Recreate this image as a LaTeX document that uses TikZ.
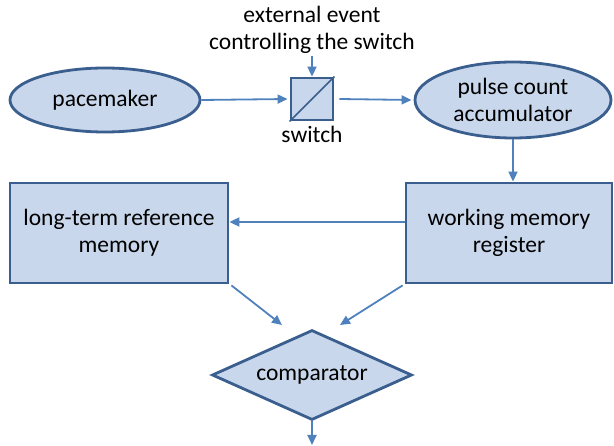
\documentclass[tikz,border=0pt]{standalone}
\usepackage{fontspec}
\setmainfont{Carlito}
\usetikzlibrary{shapes.geometric,arrows.meta}
\definecolor{boxfill}{HTML}{C9D7EC}
\definecolor{boxline}{HTML}{3A5F8F}
\definecolor{arrowc}{HTML}{4F81BD}
\begin{document}
\begin{tikzpicture}[x=1pt,y=-1pt,
  every node/.style={font=\fontsize{23.5}{27}\selectfont, align=center, inner sep=0pt},
  shapebox/.style={draw=boxline, fill=boxfill, line width=2.8pt},
  conn/.style={draw=arrowc, line width=1.8pt, -{Triangle[length=10pt,width=9pt]}}]
\useasboundingbox (0,0) rectangle (614,446);
\node[shapebox, ellipse, minimum width=190pt, minimum height=64pt] (pace) at (105,100) {pacemaker};
\node[shapebox, rectangle, minimum width=42pt, minimum height=42pt] (sw) at (312,99) {};
\draw[boxline, line width=1.5pt] (sw.south west) -- (sw.north east);
\node (swl) at (312,134) {switch};
\node (ext) at (312,30) {external event\\controlling the switch};
\coordinate (extend) at (312,56);
\node[shapebox, ellipse, minimum width=196pt, minimum height=76pt] (acc) at (513,100) {pulse count\\accumulator};
\node[shapebox, rectangle, minimum width=206pt, minimum height=100pt] (wm) at (509,233) {working memory\\register};
\node[shapebox, rectangle, minimum width=218pt, minimum height=100pt] (lt) at (119,233) {long-term reference\\memory};
\node[shapebox, diamond, minimum width=200pt, minimum height=90pt, inner sep=0pt] (cmp) at (312,375) {};
\node at (312,375) {comparator};
\coordinate (out) at (312,445);
\draw[conn] (extend) -- (sw.north);
\draw[conn] (pace.east) -- ([xshift=-2pt]sw.west);
\draw[conn] ([xshift=5pt]sw.east) -- ([xshift=-2pt]acc.west);
\draw[conn] (acc.south) -- (wm.north -| acc.south);
\draw[conn] ([yshift=11pt]wm.west) -- ([yshift=11pt]lt.east);
\draw[conn] ([xshift=2pt,yshift=-1pt]lt.south east) -- (282,325);
\draw[conn] ([xshift=-2pt,yshift=-1pt]wm.south west) -- (340,325);
\draw[conn] (cmp.south) -- (out);
\end{tikzpicture}
\end{document}
